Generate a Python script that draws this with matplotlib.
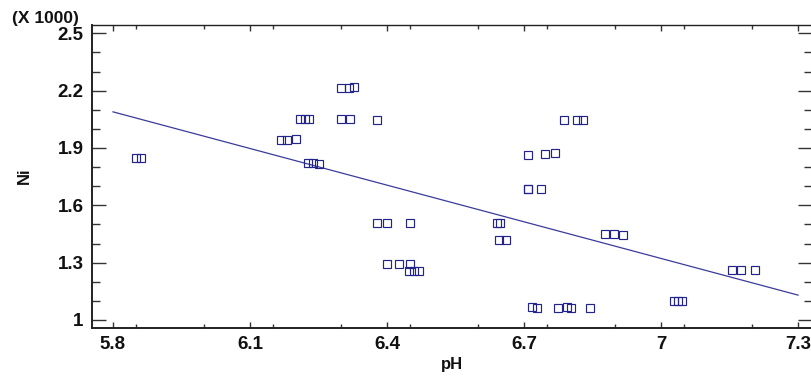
import matplotlib
matplotlib.use("Agg")
import matplotlib.pyplot as plt
from matplotlib.ticker import MultipleLocator, FixedLocator
import numpy as np

# Soil pH against nickel concentration (Ni shown in thousands)
ph = [5.850, 5.862,
      6.168, 6.180, 6.200,
      6.209, 6.220, 6.230,
      6.228, 6.238, 6.250,
      6.299, 6.316, 6.328,
      6.299, 6.318, 6.377,
      6.377, 6.399, 6.450,
      6.399, 6.427, 6.450,
      6.449, 6.459, 6.471,
      6.641, 6.647, 6.645, 6.661,
      6.708, 6.746, 6.768,
      6.708, 6.709, 6.737,
      6.787, 6.817, 6.828,
      6.877, 6.897, 6.917,
      7.156, 7.176, 7.206,
      7.028, 7.037, 7.045,
      6.718, 6.728, 6.775, 6.793, 6.802, 6.844]
ni = [1848, 1848,
      1940, 1940, 1945,
      2052, 2052, 2052,
      1820, 1820, 1817,
      2216, 2216, 2220,
      2050, 2052, 2044,
      1509, 1509, 1507,
      1293, 1293, 1295,
      1255, 1255, 1258,
      1510, 1508, 1420, 1420,
      1864, 1869, 1873,
      1685, 1687, 1687,
      2044, 2048, 2046,
      1449, 1449, 1445,
      1260, 1260, 1260,
      1097, 1097, 1097,
      1068, 1065, 1063, 1066, 1063, 1064]

# Fitted linear model: Ni = intercept + slope * pH
fit_intercept = 5797.0
fit_slope = -639.3
fit_range = [5.8, 7.3]

x_ticks = [5.8, 6.1, 6.4, 6.7, 7.0, 7.3]
x_tick_labels = ["5.8", "6.1", "6.4", "6.7", "7", "7.3"]
y_ticks = [1.0, 1.3, 1.6, 1.9, 2.2, 2.5]
y_tick_labels = ["1", "1.3", "1.6", "1.9", "2.2", "2.5"]

W, H = 812, 377
fig = plt.figure(figsize=(W / 100, H / 100), dpi=100)
ax = fig.add_axes([92 / W, 1 - 328 / H, (812 - 92) / W, (328 - 25) / H])

mark_color = "#23238c"
line_color = "#3b3b9c"

scale = 1000.0
ax.plot(np.array(ph), np.array(ni) / scale, linestyle="none", marker="s",
        markersize=5.6, markerfacecolor="none", markeredgecolor=mark_color,
        markeredgewidth=0.85, zorder=3)

fx = np.array(fit_range)
fy = (fit_intercept + fit_slope * fx) / scale
ax.plot(fx, fy, color=line_color, linewidth=0.9, zorder=2)

ax.set_xlim(5.754, 7.3305)
ax.set_ylim(0.958, 2.5435)

ax.xaxis.set_major_locator(FixedLocator(x_ticks))
ax.set_xticklabels(x_tick_labels)
ax.xaxis.set_minor_locator(MultipleLocator(0.15))
ax.yaxis.set_major_locator(FixedLocator(y_ticks))
ax.set_yticklabels(y_tick_labels)
ax.yaxis.set_minor_locator(MultipleLocator(0.1))

font = "Liberation Sans"
for lab in ax.get_xticklabels() + ax.get_yticklabels():
    lab.set_fontfamily(font)
    lab.set_fontweight("bold")
    lab.set_fontsize(13.5)
    lab.set_color("#111111")

ax.tick_params(axis="both", which="both", direction="in", colors="#333333",
               width=1.0, top=True, right=True)
ax.tick_params(axis="both", which="both", labelcolor="#111111")
ax.tick_params(axis="y", which="major", length=10, pad=6.0)
ax.tick_params(axis="y", which="minor", length=6)
ax.tick_params(axis="x", which="major", length=4, pad=6)
ax.tick_params(axis="x", which="minor", length=3)

for side in ("left", "bottom", "top"):
    ax.spines[side].set_color("#222222")
ax.spines["left"].set_linewidth(1.4)
ax.spines["bottom"].set_linewidth(1.4)
ax.spines["top"].set_linewidth(1.0)
ax.spines["right"].set_visible(False)

fig.text(452 / W, 1 - 365 / H, "pH", ha="center", va="center",
         fontfamily=font, fontweight="bold", fontsize=12, color="#111111")
fig.text(24 / W, 1 - 176 / H, "Ni", ha="center", va="center", rotation=90,
         fontfamily=font, fontweight="bold", fontsize=12, color="#111111")
fig.text(12 / W, 1 - 19 / H, "(X 1000)", ha="left", va="center",
         fontfamily=font, fontweight="bold", fontsize=12.5, color="#111111")

fig.savefig("out.png", dpi=100)
